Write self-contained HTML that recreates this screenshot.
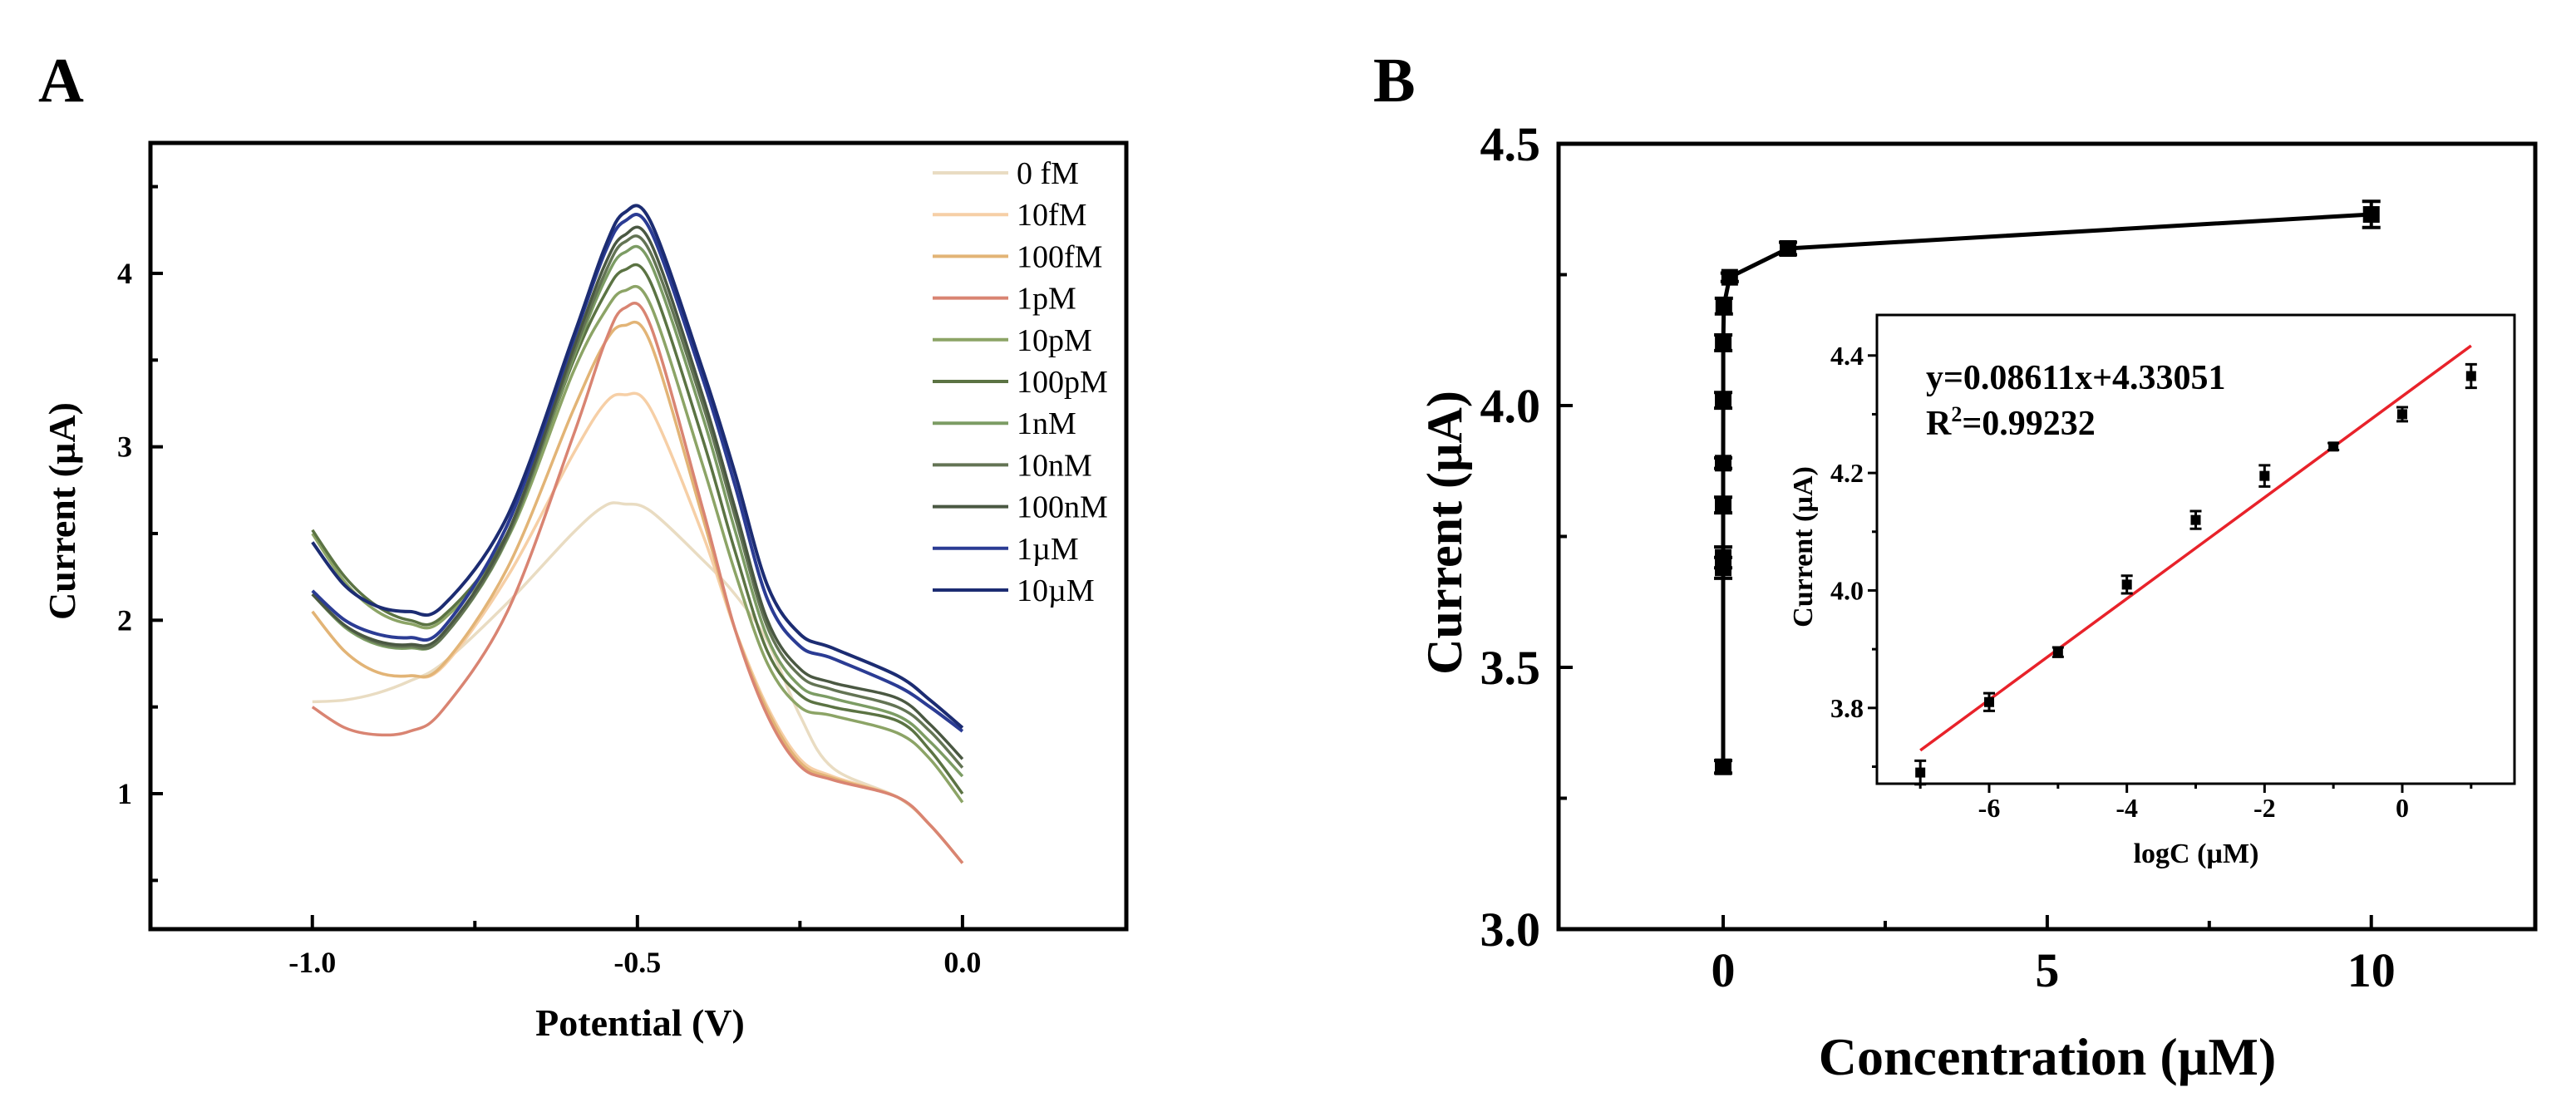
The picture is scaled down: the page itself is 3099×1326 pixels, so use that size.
<!DOCTYPE html>
<html><head><meta charset="utf-8"><style>
html,body{margin:0;padding:0;background:#fff;overflow:hidden;}
svg{display:block;font-family:"Liberation Serif",serif;}
</style></head><body>
<svg id="fig" width="3099" height="1326" viewBox="0 0 3099 1326" xmlns="http://www.w3.org/2000/svg">
<g id="pa"></g>
<g id="pb"></g>
</svg>
<script>
// ---------- Panel A data ----------
const potentials = [-1.0,-0.95,-0.9,-0.85,-0.8,-0.7,-0.6,-0.55,-0.52,-0.48,-0.4,-0.35,-0.3,-0.25,-0.2,-0.1,-0.05,0.0];
const seriesNames = ["0 fM","10fM","100fM","1pM","10pM","100pM","1nM","10nM","100nM","1\u00b5M","10\u00b5M"];
const seriesColors = ["#e9dcc2","#f6cfa6","#e2b476","#d98472","#8ca466","#5b7343","#7c9c64","#637454","#4a5842","#2b3c94","#1c2c72"];
const s0fM   = [1.53,1.54,1.58,1.65,1.75,2.1,2.5,2.66,2.67,2.63,2.35,2.15,1.88,1.45,1.15,0.98,0.82,0.6];
const s10fM  = [2.05,1.82,1.7,1.68,1.73,2.25,2.95,3.25,3.3,3.22,2.5,1.95,1.5,1.2,1.1,0.98,0.82,0.6];
const s100fM = [2.05,1.82,1.7,1.68,1.74,2.3,3.2,3.6,3.7,3.6,2.6,1.95,1.48,1.18,1.09,0.98,0.82,0.6];
const s1pM   = [1.5,1.38,1.34,1.36,1.48,2.05,3.05,3.6,3.8,3.7,2.65,1.95,1.45,1.16,1.08,0.98,0.82,0.6];
const s10pM  = [2.5,2.22,2.05,1.98,2.0,2.47,3.42,3.78,3.9,3.82,2.9,2.28,1.75,1.5,1.45,1.35,1.2,0.95];
const s100pM = [2.52,2.25,2.08,2.0,2.02,2.5,3.48,3.88,4.02,3.95,3.05,2.4,1.82,1.57,1.5,1.42,1.25,1.0];
const s1nM   = [2.15,1.96,1.86,1.84,1.9,2.47,3.5,3.96,4.12,4.06,3.18,2.52,1.9,1.62,1.55,1.45,1.3,1.1];
const s10nM  = [2.15,1.97,1.87,1.85,1.9,2.48,3.52,4.0,4.18,4.12,3.25,2.6,1.96,1.68,1.6,1.5,1.36,1.15];
const s100nM = [2.15,1.97,1.88,1.86,1.92,2.5,3.55,4.05,4.22,4.18,3.3,2.65,2.0,1.72,1.64,1.55,1.4,1.2];
const s1uM   = [2.17,2.0,1.92,1.9,1.95,2.55,3.6,4.12,4.3,4.25,3.4,2.78,2.12,1.85,1.78,1.62,1.5,1.36];
const s10uM  = [2.45,2.2,2.08,2.05,2.08,2.6,3.62,4.15,4.35,4.3,3.45,2.85,2.2,1.92,1.84,1.68,1.54,1.38];
const seriesA = [s0fM,s10fM,s100fM,s1pM,s10pM,s100pM,s1nM,s10nM,s100nM,s1uM,s10uM];
const xTicksA = [-1.0,-0.5,0.0];
const xTickLabelsA = ["-1.0","-0.5","0.0"];
const yTicksA = [1,2,3,4];
const yTickLabelsA = ["1","2","3","4"];

// ---------- Panel B data ----------
const concB = [0,1e-8,1e-7,1e-6,1e-5,1e-4,1e-3,1e-2,0.1,1,10];
const currentB = [3.31,3.69,3.71,3.81,3.89,4.01,4.12,4.19,4.245,4.30,4.365];
const errB = [0.012,0.02,0.02,0.015,0.01,0.015,0.015,0.015,0.008,0.012,0.025];
const xTicksB = [0,5,10];
const yTicksB = [3.0,3.5,4.0,4.5];
const yTickLabelsB = ["3.0","3.5","4.0","4.5"];
// inset
const logC = [-7,-6,-5,-4,-3,-2,-1,0,1];
const currentInset = [3.69,3.81,3.895,4.01,4.12,4.195,4.245,4.30,4.365];
const errInset = [0.02,0.015,0.008,0.015,0.015,0.018,0.006,0.012,0.02];
const fitSlope = 0.08611, fitIntercept = 4.33051;
const xTicksInset = [-6,-4,-2,0];
const yTicksInset = [3.8,4.0,4.2,4.4];

const NS="http://www.w3.org/2000/svg";
function el(tag, attrs, parent, text){
  const e=document.createElementNS(NS,tag);
  for(const k in attrs) e.setAttribute(k,attrs[k]);
  if(text!==undefined) e.textContent=text;
  parent.appendChild(e); return e;
}
function smoothPath(pts){
  let d="M"+pts[0][0].toFixed(1)+","+pts[0][1].toFixed(1);
  for(let i=0;i<pts.length-1;i++){
    const p0=pts[Math.max(0,i-1)],p1=pts[i],p2=pts[i+1],p3=pts[Math.min(pts.length-1,i+2)];
    const c1=[p1[0]+(p2[0]-p0[0])/6,p1[1]+(p2[1]-p0[1])/6];
    const c2=[p2[0]-(p3[0]-p1[0])/6,p2[1]-(p3[1]-p1[1])/6];
    d+=" C"+c1[0].toFixed(1)+","+c1[1].toFixed(1)+" "+c2[0].toFixed(1)+","+c2[1].toFixed(1)+" "+p2[0].toFixed(1)+","+p2[1].toFixed(1);
  }
  return d;
}

// ---------- Panel A ----------
(function(){
  const g=document.getElementById('pa');
  const L=181,R=1355,T=172,B=1118;
  const xMin=-1.249,xMax=0.252,yMin=0.219,yMax=4.752;
  const X=v=>L+(v-xMin)/(xMax-xMin)*(R-L);
  const Y=v=>B-(v-yMin)/(yMax-yMin)*(B-T);
  let t=el('text',{x:46,y:122,'font-size':76,'font-weight':'bold'},g,'A');
  
  
  for(let s=0;s<seriesA.length;s++){
    const pts=potentials.map((v,i)=>[X(v),Y(seriesA[s][i])]);
    const p=el('path',{d:smoothPath(pts),fill:'none',stroke:seriesColors[s],'stroke-width':s>=9?4:3.5},g);
    
    
  }
  const f=el('rect',{x:L,y:T,width:R-L,height:B-T,fill:'none',stroke:'#000','stroke-width':5},g);
  
  
  xTicksA.forEach((v,i)=>{
    el('line',{x1:X(v),x2:X(v),y1:B,y2:B-17,stroke:'#000','stroke-width':4},g);
    const tl=el('text',{x:X(v),y:1170,'font-size':36,'font-weight':'bold','text-anchor':'middle'},g,xTickLabelsA[i]);
    
    
  });
  [-0.75,-0.25].forEach(v=>el('line',{x1:X(v),x2:X(v),y1:B,y2:B-10,stroke:'#000','stroke-width':4},g));
  yTicksA.forEach((v,i)=>{
    el('line',{x1:L,x2:L+15,y1:Y(v),y2:Y(v),stroke:'#000','stroke-width':4},g);
    const tl=el('text',{x:L-22,y:Y(v)+12,'font-size':36,'font-weight':'bold','text-anchor':'end'},g,yTickLabelsA[i]);
    
    
  });
  [0.5,1.5,2.5,3.5,4.5].forEach(v=>el('line',{x1:L,x2:L+9,y1:Y(v),y2:Y(v),stroke:'#000','stroke-width':4},g));
  let xt=el('text',{x:770,y:1246,'font-size':46,'font-weight':'bold','text-anchor':'middle'},g,'Potential (V)');
  
  
  let yt=el('text',{x:0,y:0,'font-size':46,'font-weight':'bold','text-anchor':'middle',transform:'translate(90,615) rotate(-90)'},g,'Current (\u00b5A)');
  
  
  const lg=el('g',{},g);
  
  
  seriesNames.forEach((n,i)=>{
    const y=208+i*50.2;
    const e=el('g',{},lg);
    
    
    el('line',{x1:1122,x2:1213,y1:y,y2:y,stroke:seriesColors[i],'stroke-width':4},e);
    el('text',{x:1223,y:y+13,'font-size':38},e,n);
  });
})();

// ---------- Panel B ----------
(function(){
  const g=document.getElementById('pb');
  const L=1875,R=3050,T=173,B=1118;
  const xMin=-2.54,xMax=12.53,yMin=3.0,yMax=4.5;
  const X=v=>L+(v-xMin)/(xMax-xMin)*(R-L);
  const Y=v=>B-(v-yMin)/(yMax-yMin)*(B-T);
  let t=el('text',{x:1652,y:122,'font-size':76,'font-weight':'bold'},g,'B');
  
  
  const ln=el('polyline',{points:concB.map((c,i)=>X(c).toFixed(1)+','+Y(currentB[i]).toFixed(1)).join(' '),fill:'none',stroke:'#000','stroke-width':5},g);
  
  
  concB.forEach((c,i)=>{
    const x=X(c),y=Y(currentB[i]);
    const eb=el('path',{d:`M${x},${Y(currentB[i]+errB[i])}V${Y(currentB[i]-errB[i])}M${x-11},${Y(currentB[i]+errB[i])}H${x+11}M${x-11},${Y(currentB[i]-errB[i])}H${x+11}`,stroke:'#000','stroke-width':4,fill:'none'},g);
    
    
    const m=el('rect',{x:x-10,y:y-10,width:20,height:20,fill:'#000'},g);
    
    
  });
  const f=el('rect',{x:L,y:T,width:R-L,height:B-T,fill:'none',stroke:'#000','stroke-width':5},g);
  
  
  xTicksB.forEach(v=>{
    el('line',{x1:X(v),x2:X(v),y1:B,y2:B-17,stroke:'#000','stroke-width':4},g);
    const tl=el('text',{x:X(v),y:1187,'font-size':58,'font-weight':'bold','text-anchor':'middle'},g,String(v));
    
    
  });
  [2.5,7.5].forEach(v=>el('line',{x1:X(v),x2:X(v),y1:B,y2:B-10,stroke:'#000','stroke-width':4},g));
  yTicksB.forEach((v,i)=>{
    el('line',{x1:L,x2:L+17,y1:Y(v),y2:Y(v),stroke:'#000','stroke-width':4},g);
    const tl=el('text',{x:1853,y:Y(v)+20,'font-size':58,'font-weight':'bold','text-anchor':'end'},g,yTickLabelsB[i]);
    
    
  });
  [3.25,3.75,4.25].forEach(v=>el('line',{x1:L,x2:L+10,y1:Y(v),y2:Y(v),stroke:'#000','stroke-width':4},g));
  let xt=el('text',{x:2463,y:1293,'font-size':64,'font-weight':'bold','text-anchor':'middle'},g,'Concentration (\u00b5M)');
  
  
  let yt=el('text',{x:0,y:0,'font-size':60,'font-weight':'bold','text-anchor':'middle',transform:'translate(1758,641) rotate(-90)'},g,'Current (\u00b5A)');
  
  

  const ig=el('g',{},g);
  
  
  const iL=2258,iR=3025,iT=379,iB=943;
  const ixMin=-7.63,ixMax=1.63,iyMin=3.671,iyMax=4.469;
  const IX=v=>iL+(v-ixMin)/(ixMax-ixMin)*(iR-iL);
  const IY=v=>iB-(v-iyMin)/(iyMax-iyMin)*(iB-iT);
  el('rect',{x:iL,y:iT,width:iR-iL,height:iB-iT,fill:'#fff',stroke:'#000','stroke-width':3},ig);
  const fit=el('line',{x1:IX(logC[0]),y1:IY(fitSlope*logC[0]+fitIntercept),x2:IX(logC[logC.length-1]),y2:IY(fitSlope*logC[logC.length-1]+fitIntercept),stroke:'#e8222a','stroke-width':3.5},ig);
  
  
  logC.forEach((c,i)=>{
    const x=IX(c),y=IY(currentInset[i]);
    const eb=el('path',{d:`M${x},${IY(currentInset[i]+errInset[i])}V${IY(currentInset[i]-errInset[i])}M${x-7},${IY(currentInset[i]+errInset[i])}H${x+7}M${x-7},${IY(currentInset[i]-errInset[i])}H${x+7}`,stroke:'#000','stroke-width':3,fill:'none'},ig);
    
    
    const m=el('rect',{x:x-6,y:y-6,width:12,height:12,fill:'#000'},ig);
    
    
  });
  xTicksInset.forEach(v=>{
    el('line',{x1:IX(v),x2:IX(v),y1:iB,y2:iB+11,stroke:'#000','stroke-width':3},ig);
    const tl=el('text',{x:IX(v),y:983,'font-size':32,'font-weight':'bold','text-anchor':'middle'},ig,String(v));
    
    
  });
  [-7,-5,-3,-1,1].forEach(v=>el('line',{x1:IX(v),x2:IX(v),y1:iB,y2:iB+6,stroke:'#000','stroke-width':3},ig));
  yTicksInset.forEach(v=>{
    el('line',{x1:iL,x2:iL-11,y1:IY(v),y2:IY(v),stroke:'#000','stroke-width':3},ig);
    const tl=el('text',{x:iL-16,y:IY(v)+11,'font-size':32,'font-weight':'bold','text-anchor':'end'},ig,v.toFixed(1));
    
    
  });
  [3.7,3.9,4.1,4.3].forEach(v=>el('line',{x1:iL,x2:iL-6,y1:IY(v),y2:IY(v),stroke:'#000','stroke-width':3},ig));
  let ixt=el('text',{x:2642,y:1038,'font-size':34,'font-weight':'bold','text-anchor':'middle'},ig,'logC (\u00b5M)');
  
  
  let iyt=el('text',{x:0,y:0,'font-size':34,'font-weight':'bold','text-anchor':'middle',transform:'translate(2180,658) rotate(-90)'},ig,'Current (\u00b5A)');
  
  
  let eq=el('text',{x:2317,y:468,'font-size':42,'font-weight':'bold'},ig,'y=0.08611x+4.33051');
  
  
  let r2=el('text',{x:2317,y:523,'font-size':42,'font-weight':'bold'},ig);
  
  
  r2.innerHTML='R<tspan dy="-16" font-size="26">2</tspan><tspan dy="16">=0.99232</tspan>';
})();
</script>
</body></html>
